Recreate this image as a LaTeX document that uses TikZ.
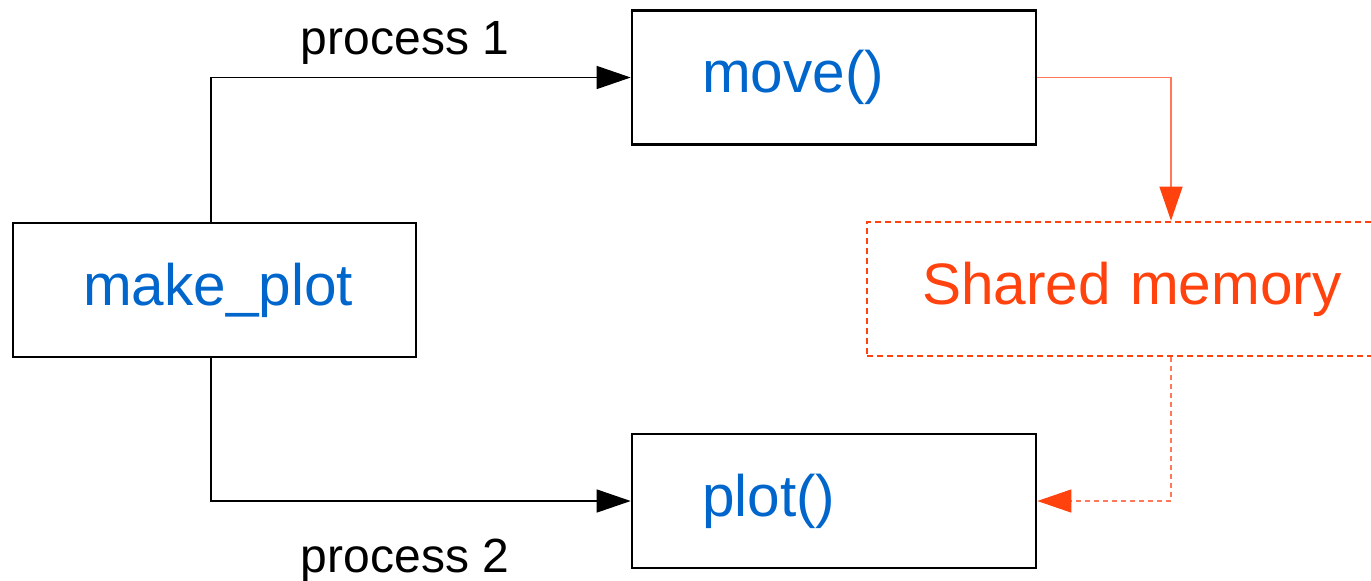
\documentclass[tikz,border=0pt]{standalone}
\usepackage{fontspec}
\setmainfont{Liberation Sans}
\usetikzlibrary{arrows.meta}
\definecolor{txtblue}{RGB}{0,102,204}
\definecolor{memorange}{RGB}{255,66,14}
\definecolor{linkorange}{RGB}{255,120,90}
\begin{document}
\begin{tikzpicture}[x=1pt,y=-1pt,
  box/.style={draw=black, line width=2.6pt, rectangle, minimum height=134pt,
    inner ysep=0pt, align=left, text=txtblue,
    font=\fontsize{58.5}{66}\selectfont},
  membox/.style={draw=memorange, line width=2.6pt, dash pattern=on 6pt off 4pt,
    rectangle, minimum height=134pt, inner ysep=0pt, align=left, text=memorange,
    font=\fontsize{58.5}{66}\selectfont},
  conn/.style={draw=black, line width=1.3pt,
    -{Triangle[length=34pt,width=23pt]}},
  memconn/.style={draw=linkorange, line width=1.3pt,
    -{Triangle[length=34pt,width=23pt,color=memorange]}},
  lbl/.style={font=\fontsize{48}{56}\selectfont, anchor=base, inner sep=0pt}]
  \useasboundingbox (0,0) rectangle (1371,581);
  \clip (0,0) rectangle (1371,581);

  % function boxes: text sits 70pt in from the left edge
  \node[box, text width=263pt, inner xsep=70pt] (mk) at (214.5,290) {make\_plot};
  \node[box, text width=264pt, inner xsep=70pt] (mv) at (834,77.5) {move()};
  \node[box, text width=264pt, inner xsep=70pt] (pl) at (834,501) {plot()};
  \node[membox, text width=430pt, inner xsep=55pt] (sm) at (1137,289) {Shared memory};

  % turning points of the links
  \coordinate (smin) at ([xshift=34pt]sm.north);
  \coordinate (smout) at ([xshift=34pt]sm.south);
  \coordinate (mkup) at ([xshift=-3.5pt]mk.north);
  \coordinate (mkdn) at ([xshift=-3.5pt]mk.south);

  % process links
  \draw[conn] (mkup) |- (mv.west);
  \draw[conn] (mkdn) |- (pl.west);
  \node[lbl] (p1) at (405,54) {process 1};
  \node[lbl] (p2) at (405,572) {process 2};

  % shared memory links
  \draw[memconn] (mv.east) -| (smin);
  \draw[memconn, dash pattern=on 5pt off 4pt] (smout) |- (pl.east);
\end{tikzpicture}
\end{document}
